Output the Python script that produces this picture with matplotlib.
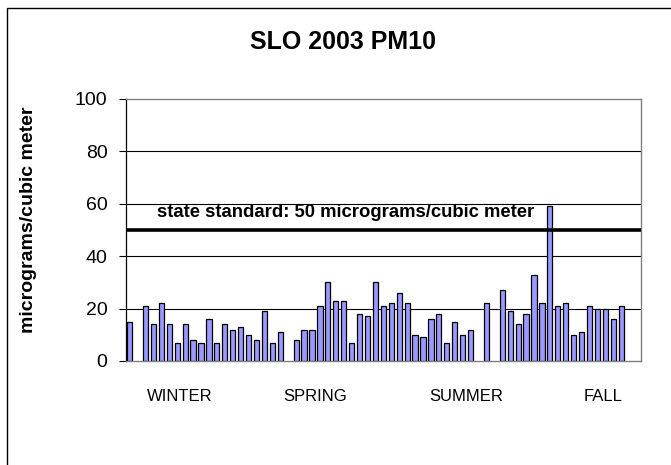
import numpy as np
import matplotlib
matplotlib.use("Agg")
import matplotlib.pyplot as plt
from matplotlib.patches import Rectangle

plt.rcParams['font.family'] = ['Liberation Sans', 'DejaVu Sans']

# PM10 samples (micrograms/cubic meter), NaN = no sample
pm10 = [15, np.nan, 21, 14, 22, 14, 7, 14, 8, 7,
        16, 7, 14, 12, 13, 10, 8, 19, 7, 11,
        np.nan, 8, 12, 12, 21, 30, 23, 23, 7, 18,
        17, 30, 21, 22, 26, 22, 10, 9, 16, 18,
        7, 15, 10, 12, np.nan, 22, np.nan, 27, 19, 14,
        18, 33, 22, 59, 21, 22, 10, 11, 21, 20,
        20, 16, 21, np.nan, np.nan]
seasons = ['WINTER', 'SPRING', 'SUMMER', 'FALL']
state_standard = 50
yticks = [0, 20, 40, 60, 80, 100]

# label placement along the category axis
season_x = [6.3, 23.4, 42.5, 59.7]

fig = plt.figure(figsize=(6.71, 4.65), dpi=100)
ax = fig.add_axes([0.1873, 0.2237, 0.7680, 0.5634])

x = np.arange(len(pm10))
ax.bar(x, pm10, width=0.66, color='#9999FF', edgecolor='black', linewidth=0.9, zorder=3)

# gridlines and standard line
for v in yticks[1:-1]:
    ax.axhline(v, color='black', linewidth=0.8, zorder=1)
ax.axhline(state_standard, color='black', linewidth=2.6, zorder=4)
ax.text(3.5, 54.8, 'state standard: 50 micrograms/cubic meter', fontsize=13.3,
        fontweight='bold', ha='left', va='baseline', zorder=5)

ax.set_xlim(-0.5, len(pm10) - 0.5)
ax.set_ylim(0, 100)
ax.set_yticks(yticks)
ax.tick_params(axis='y', direction='out', length=5, width=0.8, labelsize=14, pad=8)
ax.set_xticks(season_x)
ax.set_xticklabels(seasons, fontsize=12)
ax.tick_params(axis='x', length=0, pad=20)

for side in ['top', 'right', 'bottom']:
    ax.spines[side].set_color('#808080')
    ax.spines[side].set_linewidth(1.0)
ax.spines['left'].set_color('black')
ax.spines['left'].set_linewidth(0.9)

ax.set_ylabel('micrograms/cubic meter', fontsize=14, fontweight='bold')
ax.yaxis.set_label_coords(-0.173, 0.54)

fig.text(0.511, 0.91, 'SLO 2003 PM10', fontsize=18, fontweight='bold',
         ha='center', va='center')

# chart area border (only left and top edges are visible)
fig.patches.append(Rectangle((0.011, -0.1), 1.2, 1.082, transform=fig.transFigure,
                             fill=False, edgecolor='black', linewidth=1.0))

fig.savefig('out.png', dpi=100)
